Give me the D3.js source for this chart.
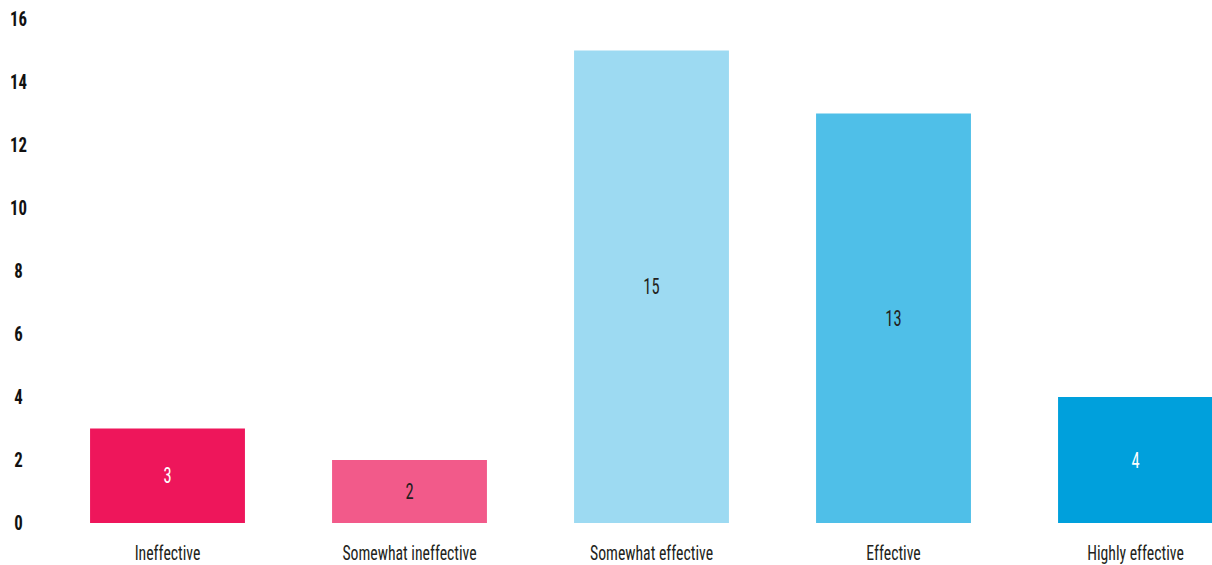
<!DOCTYPE html>
<html>
<head>
<meta charset="utf-8">
<script src="https://cdn.jsdelivr.net/npm/d3@7"></script>
<style>
  html, body { margin: 0; padding: 0; background: #fff; }
  svg { display: block; }
  text { font-family: "Liberation Sans Narrow", "Roboto Condensed", "DejaVu Sans Condensed", sans-serif; }
</style>
</head>
<body>
<svg id="chart" width="1212" height="565"></svg>
<script>
// Survey responses on effectiveness
const categories = ["Ineffective", "Somewhat ineffective", "Somewhat effective", "Effective", "Highly effective"];
const counts = [3, 2, 15, 13, 4];
const barColors = ["#ee165b", "#f25a8a", "#9ddaf2", "#4fbfe8", "#00a0dc"];
const valueColors = ["#ffffff", "#231f20", "#231f20", "#231f20", "#ffffff"];
const yTicks = [0, 2, 4, 6, 8, 10, 12, 14, 16];

const svg = d3.select("#chart");
const squeeze = 0.8;       // condensed tick figures
const labelSqueeze = 0.75; // condensed category and value text

const x = d3.scaleBand()
  .domain(categories)
  .range([46.5, 1256.5])
  .paddingInner(0.36)
  .paddingOuter(0.18);

const y = d3.scaleLinear()
  .domain([0, 16])
  .range([523, 19]);

// Y tick labels
svg.append("g")
  .selectAll("text")
  .data(yTicks)
  .join("text")
  .attr("transform", d => `translate(18.5,${y(d)}) scale(${squeeze},1)`)
  .attr("text-anchor", "middle")
  .attr("dy", "0.35em")
  .attr("font-size", 21)
  .attr("font-weight", "bold")
  .attr("fill", "#111")
  .text(d => d);

// Bars
const data = categories.map((c, i) => ({ c, v: counts[i], color: barColors[i], tc: valueColors[i] }));

svg.append("g")
  .selectAll("rect")
  .data(data)
  .join("rect")
  .attr("x", d => x(d.c))
  .attr("y", d => y(d.v))
  .attr("width", x.bandwidth())
  .attr("height", d => y(0) - y(d.v))
  .attr("fill", d => d.color);

// Value labels in the middle of each bar
svg.append("g")
  .selectAll("text")
  .data(data)
  .join("text")
  .attr("transform", d => `translate(${x(d.c) + x.bandwidth() / 2},${(y(d.v) + y(0)) / 2}) scale(${labelSqueeze},1)`)
  .attr("text-anchor", "middle")
  .attr("dy", "0.35em")
  .attr("font-size", 22)
  .attr("fill", d => d.tc)
  .text(d => d.v);

// Category labels
svg.append("g")
  .selectAll("text")
  .data(categories)
  .join("text")
  .attr("transform", d => `translate(${x(d) + x.bandwidth() / 2},553) scale(${labelSqueeze},1)`)
  .attr("text-anchor", "middle")
  .attr("dy", "0.35em")
  .attr("font-size", 21)
  .attr("fill", "#231f20")
  .text(d => d);
</script>
</body>
</html>
